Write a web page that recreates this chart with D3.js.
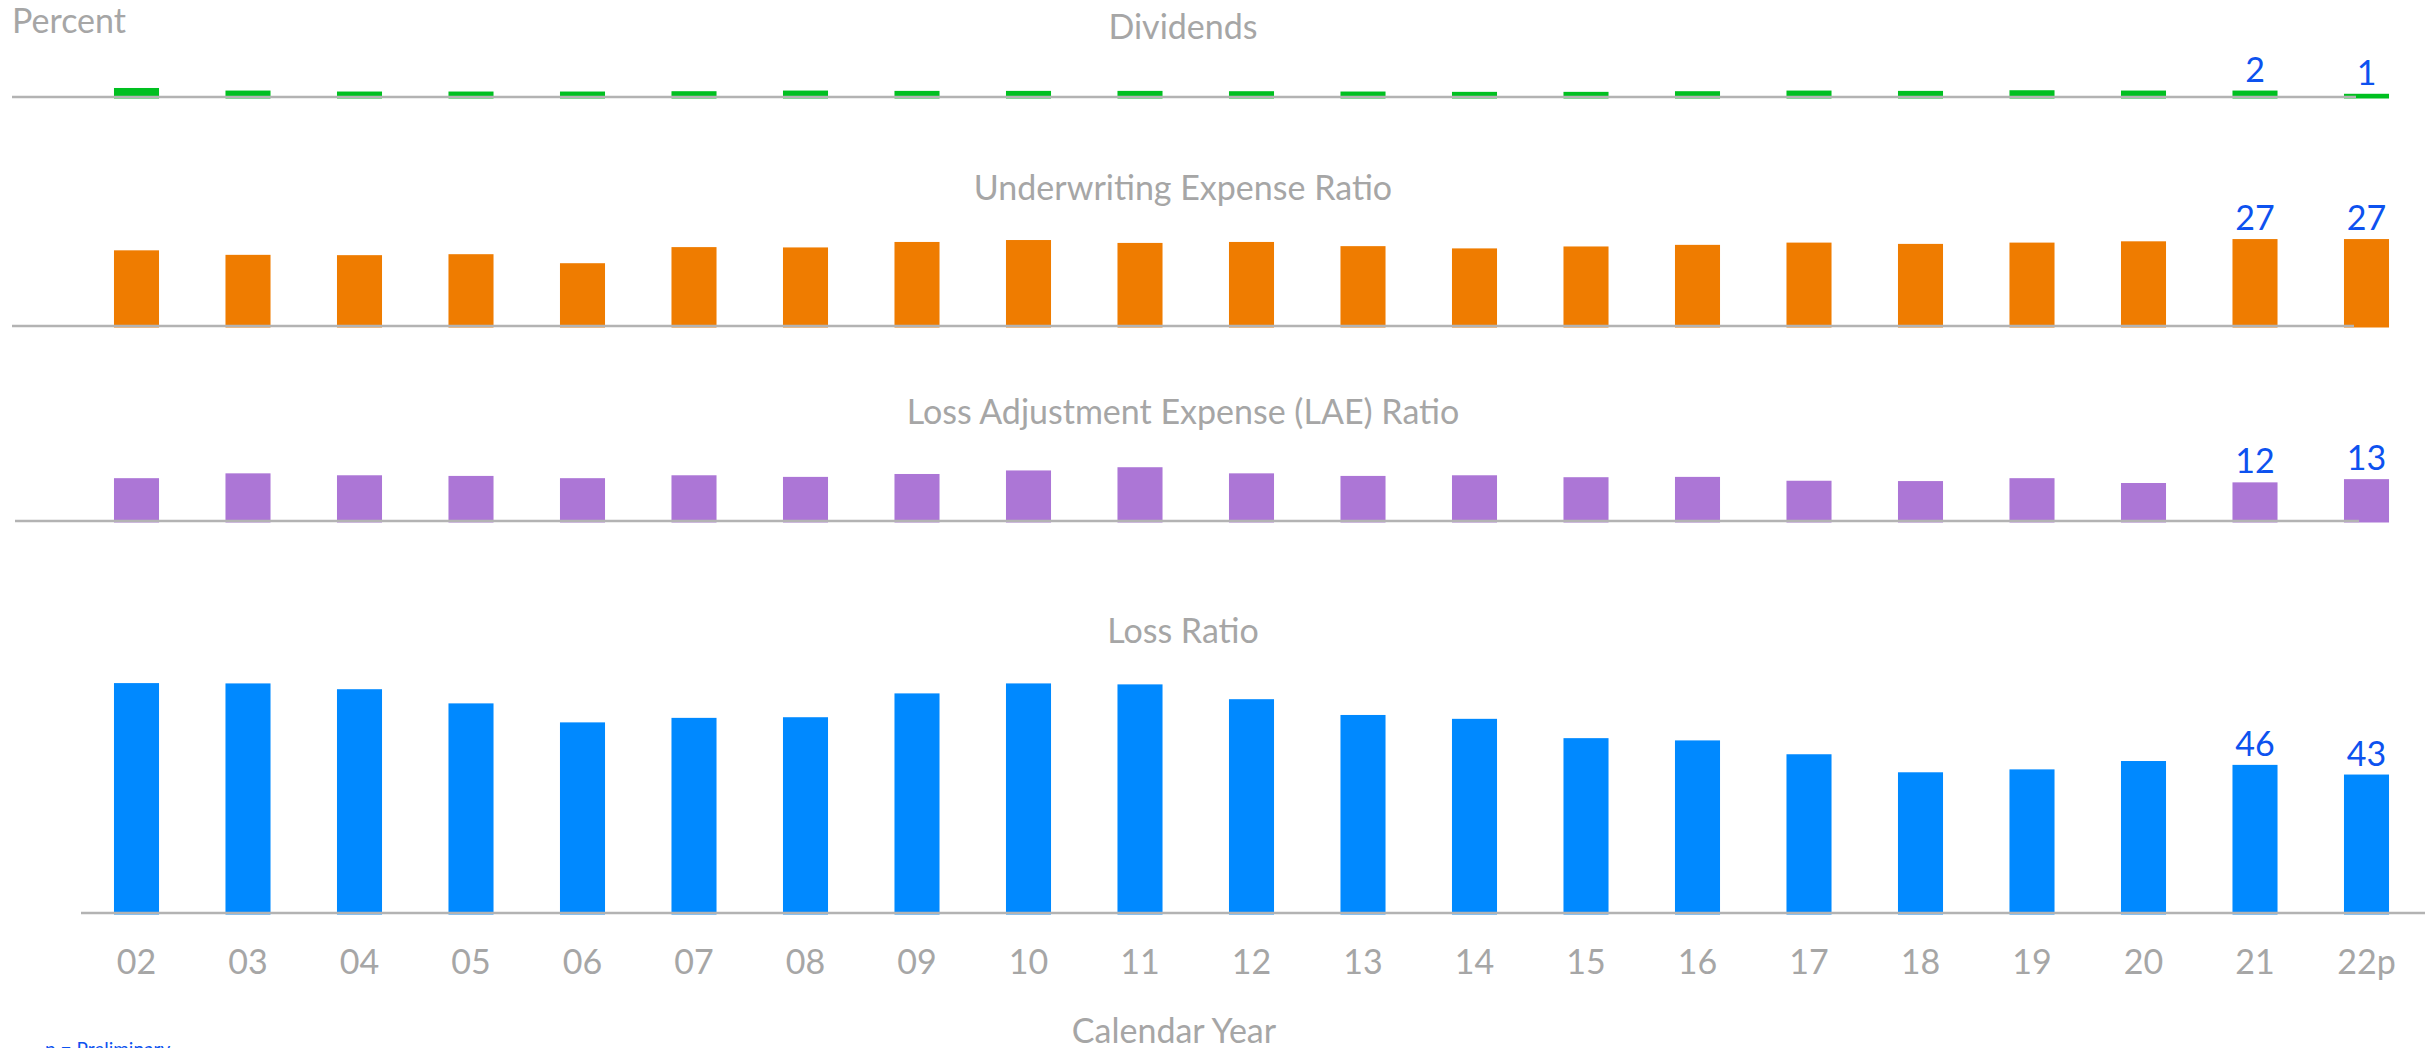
<!DOCTYPE html>
<html>
<head>
<meta charset="utf-8">
<script src="https://cdn.jsdelivr.net/npm/d3@7"></script>
<style>
  html, body { margin: 0; padding: 0; background: #ffffff; }
  svg { display: block; }
  text { font-family: Lato, "Open Sans", sans-serif; }
</style>
</head>
<body>
<script>
// Calendar years (p = preliminary)
const years = ["02","03","04","05","06","07","08","09","10","11","12","13","14","15","16","17","18","19","20","21","22p"];

// Ratios, percent of premium
const dividends    = [2.8, 2.0, 1.7, 1.7, 1.7, 1.8, 2.0, 1.9, 1.9, 1.9, 1.8, 1.7, 1.6, 1.6, 1.8, 2.0, 1.9, 2.1, 2.0, 2, 1];
const underwriting = [23.5, 22.1, 22.0, 22.3, 19.5, 24.5, 24.4, 26.1, 26.7, 25.8, 26.1, 24.8, 24.1, 24.7, 25.2, 25.9, 25.5, 25.9, 26.3, 27, 27];
const lae          = [13.3, 14.8, 14.2, 14.0, 13.3, 14.2, 13.7, 14.6, 15.7, 16.7, 14.8, 14.0, 14.2, 13.6, 13.7, 12.5, 12.4, 13.3, 11.8, 12, 13];
const lossRatio    = [71.4, 71.3, 69.5, 65.1, 59.2, 60.6, 60.8, 68.2, 71.3, 71.0, 66.4, 61.5, 60.3, 54.3, 53.6, 49.3, 43.7, 44.6, 47.2, 46, 43];

// Years whose values are printed above the bar
const labeledYears = ["21", "22p"];

const W = 2425, H = 1048;
const GRAY = "#a6a6a6";
const LINE = "#b3b3b3";
const LABEL = "#0d52ef";
const PX_PER_POINT = 3.22;

const panels = [
  { title: "Dividends",                          values: dividends,    color: "#00c020", base: 97,  titleY: 39,  lineX: [12, 2356] },
  { title: "Underwriting Expense Ratio",         values: underwriting, color: "#ef7c00", base: 326, titleY: 200, lineX: [12, 2354] },
  { title: "Loss Adjustment Expense (LAE) Ratio",values: lae,          color: "#ac76d6", base: 521, titleY: 424, lineX: [15, 2359] },
  { title: "Loss Ratio",                         values: lossRatio,    color: "#0089ff", base: 913, titleY: 643, lineX: [81, 2425] }
];

const svg = d3.select("body").append("svg")
  .attr("width", W).attr("height", H)
  .attr("viewBox", `0 0 ${W} ${H}`);

const x = d3.scaleBand()
  .domain(years)
  .range([80.75, 80.75 + 21 * 111.5])
  .paddingInner(0.596)
  .paddingOuter(0.298);

const titleX = 1183;

panels.forEach(p => {
  const y = d3.scaleLinear().domain([0, 100]).range([p.base, p.base - 100 * PX_PER_POINT]);
  const g = svg.append("g");

  g.append("text")
    .attr("x", titleX).attr("y", p.titleY)
    .attr("text-anchor", "middle")
    .attr("fill", GRAY)
    .attr("font-size", 34)
    .text(p.title);

  const data = years.map((yr, i) => ({ yr, v: p.values[i] }));

  g.selectAll("rect.bar").data(data).enter().append("rect")
    .attr("class", "bar")
    .attr("x", d => x(d.yr))
    .attr("width", x.bandwidth())
    .attr("y", d => y(d.v))
    .attr("height", d => y(0) + 1.5 - y(d.v))
    .attr("fill", p.color);

  g.append("line")
    .attr("x1", p.lineX[0]).attr("x2", p.lineX[1])
    .attr("y1", p.base).attr("y2", p.base)
    .attr("stroke", LINE).attr("stroke-width", 2.5);

  g.selectAll("text.val").data(data.filter(d => labeledYears.includes(d.yr))).enter().append("text")
    .attr("class", "val")
    .attr("x", d => x(d.yr) + x.bandwidth() / 2)
    .attr("y", d => y(d.v) - 9)
    .attr("text-anchor", "middle")
    .attr("fill", LABEL)
    .attr("font-size", 34)
    .text(d => d3.format("d")(d.v));
});

// Year labels under the loss ratio panel
const axis = d3.axisBottom(x).tickSize(0).tickPadding(0);
const axG = svg.append("g")
  .attr("transform", "translate(0, 974)")
  .call(axis);
axG.select(".domain").remove();
axG.selectAll("text")
  .attr("dy", 0)
  .attr("y", 0)
  .attr("fill", GRAY)
  .attr("font-size", 34)
  .attr("font-family", "Lato, 'Open Sans', sans-serif");

svg.append("text")
  .attr("x", 12).attr("y", 33)
  .attr("fill", GRAY)
  .attr("font-size", 34)
  .text("Percent");

svg.append("text")
  .attr("x", 1174).attr("y", 1043)
  .attr("text-anchor", "middle")
  .attr("fill", GRAY)
  .attr("font-size", 34)
  .text("Calendar Year");

svg.append("text")
  .attr("x", 45).attr("y", 1056)
  .attr("fill", LABEL)
  .attr("font-size", 19)
  .text("p = Preliminary");
</script>
</body>
</html>
